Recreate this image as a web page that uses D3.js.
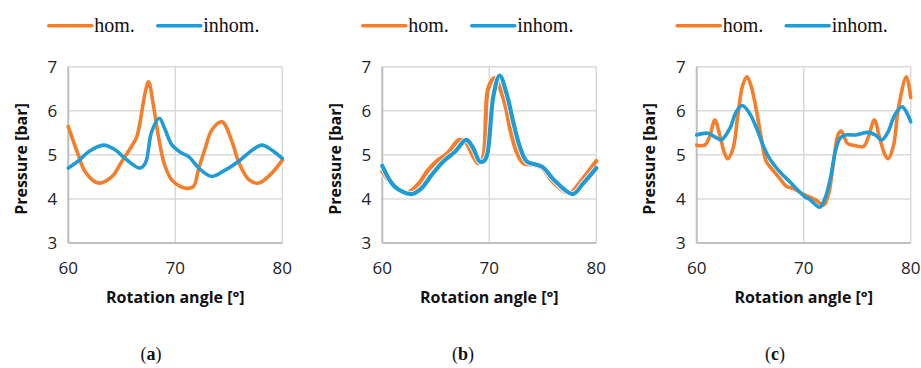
<!DOCTYPE html>
<html>
<head>
<meta charset="utf-8">
<script src="https://cdn.jsdelivr.net/npm/d3@7"></script>
<style>
  body { margin: 0; background: #fff; }
  svg { display: block; }
</style>
</head>
<body>
<div id="chart"></div>
<script>
// values (angle in degrees, pressure in bar)
var seriesNames = ["hom.", "inhom."];
var xTicks = [60, 70, 80];
var yTicks = [3, 4, 5, 6, 7];
var captions = ["a", "b", "c"];

var homA_x = [60, 60.93, 61.57, 62.8, 64.05, 65.0, 65.9, 66.4, 67.2, 67.5, 67.95, 68.4, 69.0, 69.7, 70.5, 71.2, 71.7, 72.2, 72.8, 73.4, 74.36, 75.3, 75.9, 76.9, 77.8, 79.0, 80];
var homA_y = [5.64, 5.0, 4.62, 4.36, 4.5, 4.85, 5.19, 5.41, 6.43, 6.66, 6.13, 5.45, 4.77, 4.42, 4.28, 4.24, 4.28, 4.7, 5.15, 5.56, 5.75, 5.3, 4.85, 4.43, 4.36, 4.58, 4.88];
var inhomA_x = [60, 60.93, 61.9, 63.3, 64.4, 65.3, 66.7, 67.2, 67.8, 68.5, 69.0, 69.7, 70.6, 71.25, 72.2, 73.4, 74.7, 75.9, 77.2, 78.1, 79.0, 80];
var inhomA_y = [4.70, 4.86, 5.07, 5.22, 5.11, 4.92, 4.70, 4.81, 5.53, 5.83, 5.6, 5.22, 5.04, 4.96, 4.70, 4.51, 4.66, 4.85, 5.11, 5.22, 5.11, 4.92];

var homB_x = [60, 60.84, 62.24, 63.3, 64.3, 65.2, 66.1, 67.2, 67.85, 68.5, 68.95, 69.4, 69.9, 70.5, 71.4, 72.0, 72.6, 73.2, 74.2, 74.95, 76.05, 77.5, 78.55, 80];
var homB_y = [4.62, 4.36, 4.13, 4.32, 4.66, 4.88, 5.04, 5.34, 5.27, 4.96, 4.81, 4.93, 6.51, 6.74, 6.21, 5.53, 5.04, 4.81, 4.77, 4.70, 4.36, 4.13, 4.4, 4.86];
var inhomB_x = [60, 61.16, 62.7, 63.65, 64.6, 65.7, 66.8, 67.85, 68.5, 69.1, 69.5, 69.8, 70.4, 70.97, 71.65, 72.3, 72.9, 73.5, 74.5, 75.1, 76.05, 77.8, 78.8, 80];
var inhomB_y = [4.75, 4.28, 4.11, 4.24, 4.54, 4.85, 5.07, 5.34, 5.15, 4.85, 4.86, 5.0, 6.36, 6.80, 6.36, 5.68, 5.15, 4.85, 4.77, 4.70, 4.43, 4.11, 4.36, 4.70];

var homC_x = [60, 60.75, 61.2, 61.7, 62.15, 62.6, 62.9, 63.4, 63.85, 64.3, 64.7, 65.1, 65.6, 66.04, 66.5, 67.1, 67.75, 68.4, 69.0, 70.1, 71.1, 71.85, 72.3, 72.8, 73.2, 73.5, 74.1, 74.8, 75.6, 76.05, 76.6, 77.1, 77.6, 77.9, 78.4, 78.85, 79.6, 80];
var homC_y = [5.22, 5.22, 5.41, 5.79, 5.45, 5.04, 4.91, 5.15, 5.9, 6.58, 6.77, 6.55, 5.98, 5.38, 4.85, 4.66, 4.47, 4.28, 4.24, 4.09, 3.98, 3.86, 4.09, 4.85, 5.45, 5.54, 5.26, 5.21, 5.19, 5.41, 5.79, 5.38, 5.0, 4.91, 5.22, 6.06, 6.77, 6.3];
var inhomC_x = [60, 61.05, 61.7, 62.3, 63.1, 63.7, 64.26, 64.95, 65.6, 66.2, 66.8, 67.75, 68.7, 70.1, 70.5, 71.5, 72.0, 72.5, 72.95, 73.4, 73.9, 74.8, 76.05, 76.7, 77.3, 77.9, 78.5, 79.2, 79.8, 80];
var inhomC_y = [5.45, 5.49, 5.41, 5.34, 5.6, 5.98, 6.12, 5.94, 5.6, 5.22, 4.92, 4.62, 4.39, 4.05, 4.0, 3.81, 4.02, 4.47, 5.07, 5.38, 5.45, 5.45, 5.51, 5.45, 5.34, 5.53, 5.9, 6.09, 5.87, 5.75];

var colors = ["#F47E2A", "#1F9BD6"];

// layout
var W = 921, H = 368;
var plotW = 214, plotTop = 66.7, plotBottom = 243;
var panels = [
    { left: 68.3, hom: [homA_x, homA_y], inhom: [inhomA_x, inhomA_y], lw: 3.6, halo: false, cap: 151 },
    { left: 382.3, hom: [homB_x, homB_y], inhom: [inhomB_x, inhomB_y], lw: 4.2, halo: true, cap: 463 },
    { left: 696.7, hom: [homC_x, homC_y], inhom: [inhomC_x, inhomC_y], lw: 3.6, halo: false, cap: 775 }
];

var svg = d3.select("#chart")
    .append("svg")
    .attr("width", W)
    .attr("height", H);

var tickFont = "'Open Sans', 'Noto Sans', sans-serif";
var serifFont = "'Liberation Serif', 'Times New Roman', serif";

panels.forEach(function(p, i) {
    var x = d3.scaleLinear().domain([60, 80]).range([p.left, p.left + plotW]);
    var y = d3.scaleLinear().domain([3, 7]).range([plotBottom, plotTop]);

    var g = svg.append("g");

    // gridlines
    g.selectAll(".hgrid")
        .data(yTicks)
        .enter()
        .append("line")
        .attr("x1", x(60)).attr("x2", x(80))
        .attr("y1", function(d) { return y(d); })
        .attr("y2", function(d) { return y(d); })
        .attr("stroke", "#D9D9D9")
        .attr("stroke-width", 1.5);

    g.selectAll(".vgrid")
        .data(xTicks)
        .enter()
        .append("line")
        .attr("x1", function(d) { return x(d); })
        .attr("x2", function(d) { return x(d); })
        .attr("y1", y(3)).attr("y2", y(7))
        .attr("stroke", "#D9D9D9")
        .attr("stroke-width", 1.5);

    // axes (left + bottom darker)
    g.append("line")
        .attr("x1", x(60)).attr("x2", x(60))
        .attr("y1", y(3)).attr("y2", y(7))
        .attr("stroke", "#BFBFBF").attr("stroke-width", 2);
    g.append("line")
        .attr("x1", x(60)).attr("x2", x(80))
        .attr("y1", y(3)).attr("y2", y(3))
        .attr("stroke", "#BFBFBF").attr("stroke-width", 2);

    // tick labels
    g.selectAll(".ylab")
        .data(yTicks)
        .enter()
        .append("text")
        .attr("x", x(60) - 11)
        .attr("y", function(d) { return y(d); })
        .attr("dy", "0.35em")
        .attr("text-anchor", "end")
        .style("font-family", tickFont)
        .style("font-size", "17px")
        .style("fill", "#222")
        .text(function(d) { return d; });

    g.selectAll(".xlab")
        .data(xTicks)
        .enter()
        .append("text")
        .attr("x", function(d) { return x(d); })
        .attr("y", 268)
        .attr("dy", "0.35em")
        .attr("text-anchor", "middle")
        .style("font-family", tickFont)
        .style("font-size", "17px")
        .style("fill", "#222")
        .text(function(d) { return d; });

    // axis titles
    g.append("text")
        .attr("transform", "translate(" + (p.left - 47) + "," + 159 + ")rotate(-90)")
        .attr("text-anchor", "middle")
        .attr("dy", "0.35em")
        .style("font-family", tickFont)
        .style("font-size", "16px")
        .style("font-weight", "bold")
        .style("fill", "#111")
        .text("Pressure [bar]");

    g.append("text")
        .attr("x", p.left + plotW / 2)
        .attr("y", 297)
        .attr("dy", "0.35em")
        .attr("text-anchor", "middle")
        .style("font-family", tickFont)
        .style("font-size", "16px")
        .style("font-weight", "bold")
        .style("fill", "#111")
        .text("Rotation angle [°]");

    // lines
    var line = d3.line()
        .x(function(d) { return x(d[0]); })
        .y(function(d) { return y(d[1]); })
        .curve(d3.curveCatmullRom.alpha(0.5));

    [p.hom, p.inhom].forEach(function(s, k) {
        var pts = d3.zip(s[0], s[1]);
        if (p.halo) {
            g.append("path")
                .datum(pts)
                .attr("d", line)
                .attr("fill", "none")
                .attr("stroke", "#fff")
                .attr("stroke-width", p.lw + 1.6)
                .attr("stroke-linejoin", "round");
        }
        g.append("path")
            .datum(pts)
            .attr("d", line)
            .attr("fill", "none")
            .attr("stroke", colors[k])
            .attr("stroke-width", p.lw)
            .attr("stroke-linejoin", "round")
            .attr("stroke-linecap", "round");
    });

    // legend
    var legX = [p.left - 19.5, p.left + 89.5];
    seriesNames.forEach(function(name, k) {
        g.append("line")
            .attr("x1", legX[k]).attr("x2", legX[k] + 43)
            .attr("y1", 25.7).attr("y2", 25.7)
            .attr("stroke", colors[k])
            .attr("stroke-width", 3.6)
            .attr("stroke-linecap", "round");
        g.append("text")
            .attr("x", legX[k] + 45.5)
            .attr("y", 31.5)
            .style("font-family", serifFont)
            .style("font-size", "20px")
            .style("fill", "#111")
            .text(name);
    });

    // caption
    var cap = g.append("text")
        .attr("x", p.cap)
        .attr("y", 360)
        .attr("text-anchor", "middle")
        .style("font-family", serifFont)
        .style("font-size", "18px")
        .style("fill", "#111");
    cap.append("tspan").text("(");
    cap.append("tspan").style("font-weight", "bold").text(captions[i]);
    cap.append("tspan").text(")");
});
</script>
</body>
</html>
